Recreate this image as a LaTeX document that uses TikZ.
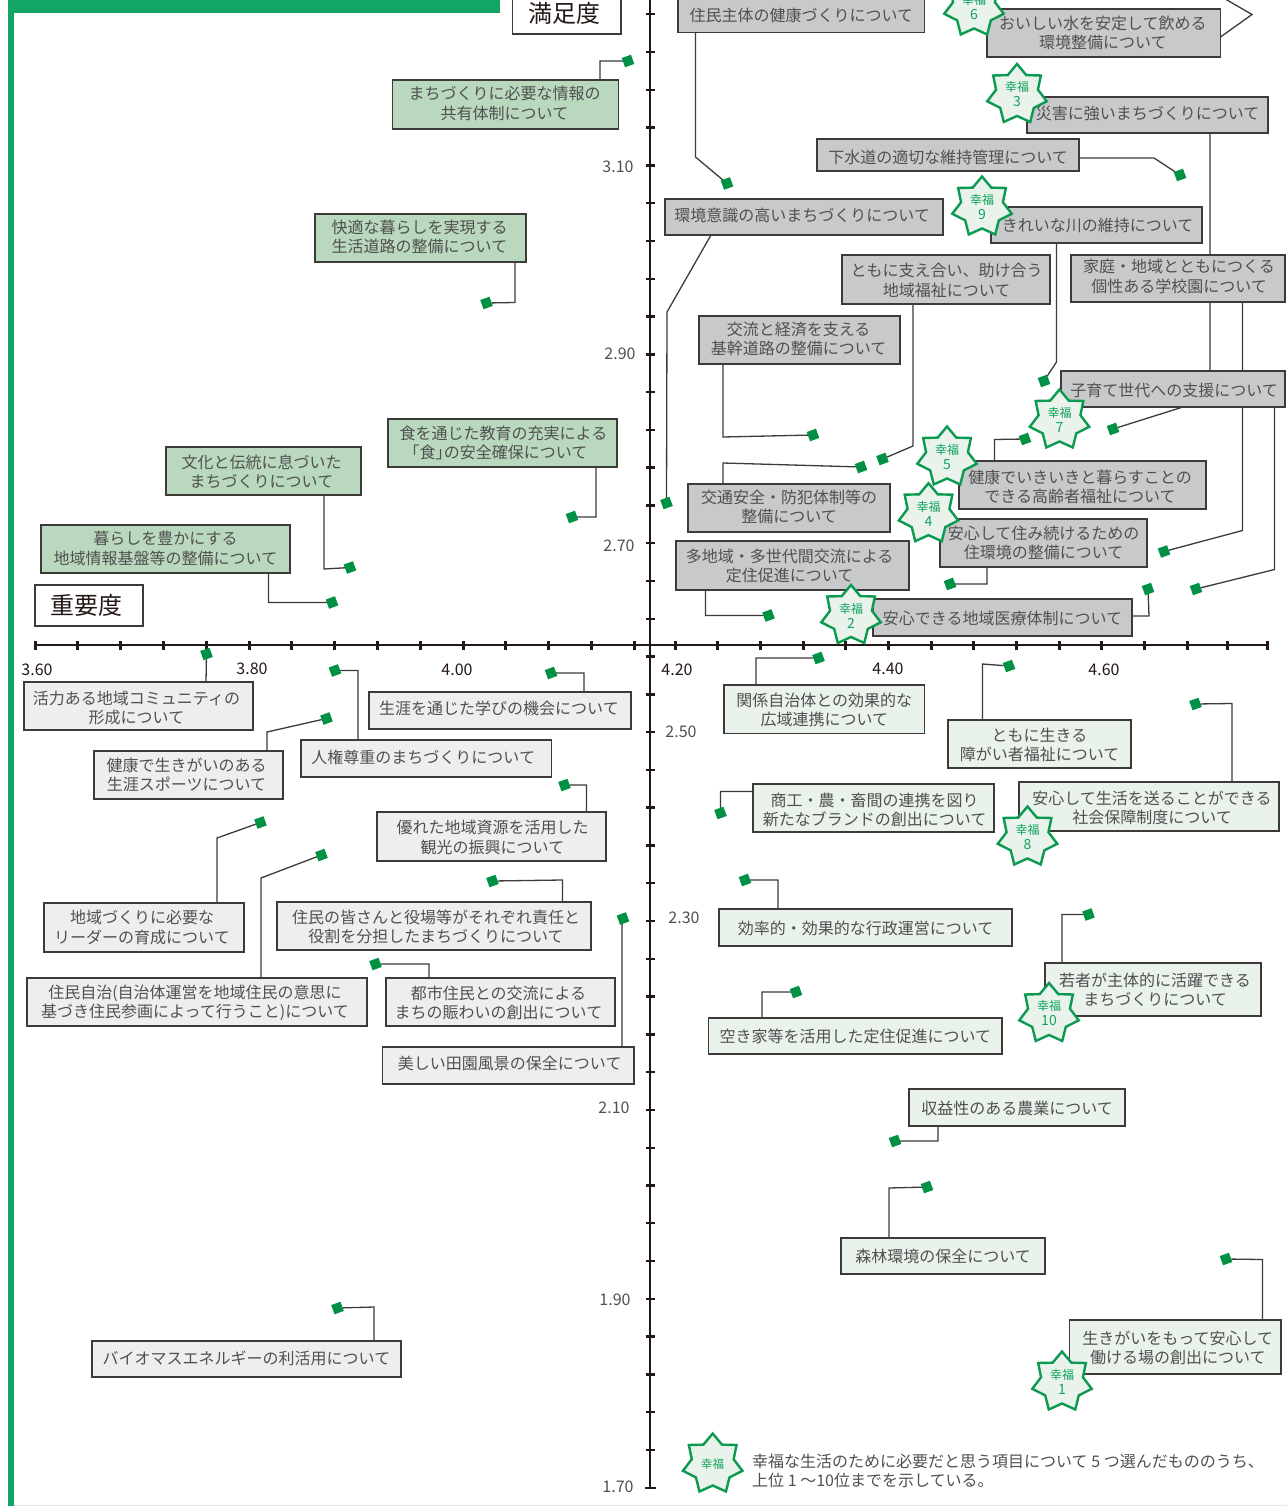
\documentclass[tikz,border=0pt]{standalone}
\usepackage{fontspec}
\setmainfont{Noto Sans CJK JP}
\usetikzlibrary{shapes.geometric}
\pgfdeclarelayer{under}
\pgfsetlayers{under,main}
\definecolor{frameg}{HTML}{13A564}
\definecolor{markg}{HTML}{009145}
\definecolor{starg}{HTML}{0B9A50}
\definecolor{startxt}{HTML}{12A35F}
\definecolor{ink}{HTML}{3E3A39}
\definecolor{txt}{HTML}{505050}
\definecolor{axisc}{HTML}{231815}
\definecolor{fdark}{HTML}{C8C9CB}
\definecolor{fmid}{HTML}{B9D8BD}
\definecolor{fgray}{HTML}{EEEEEF}
\definecolor{fpale}{HTML}{E9F2EB}
\definecolor{pale}{HTML}{E0ECE8}
% optional first argument: offset of the text from the centre of its box
\newcommand{\bx}[7][0,0]{%
  \node[#2, minimum width={(#6-#4)*1pt}, minimum height={(#7-#5)*1pt}] (#3) at ({(#4+#6)/2},{(#5+#7)/2}) {};%
  \node[boxtext] (#3t) at ([shift={(#1)}]#3.center) {\boxcontent};}
\newcommand{\tb}[8][0,0]{\def\boxcontent{#8}\bx[#1]{#2}{#3}{#4}{#5}{#6}{#7}}
\newcommand{\mk}[3]{\node[mk] (#1) at (#2,#3) {};}
\newcommand{\st}[4]{\node[hstar, font=\fontsize{12}{15}\selectfont] (#1) at (#2,#3) {幸福\\\fontsize{14}{15}\selectfont #4};}
\tikzset{
  cbox/.style={draw=ink, line width=1.3pt, inner sep=0pt, outer sep=0pt},
  boxtext/.style={inner sep=0pt, outer sep=0pt, align=center, text=txt, font=\fontsize{16}{19.2}\selectfont},
  bdark/.style={cbox, fill=fdark},
  bmid/.style={cbox, fill=fmid},
  bgray/.style={cbox, fill=fgray},
  bpale/.style={cbox, fill=fpale},
  btitle/.style={cbox, fill=white},
  titletext/.style={inner sep=0pt, text=axisc, font=\fontsize{24}{28}\selectfont},
  mk/.style={rectangle, fill=markg, inner sep=0pt, outer sep=0pt, minimum size=9.8pt, rotate=20},
  conn/.style={draw=ink, line width=1.3pt},
  hstar/.style={star, star points=7, star point ratio=1.42, draw=starg, fill=fpale, line width=2.4pt, minimum size=61pt, inner sep=0pt, outer sep=0pt, align=center, text=startxt},
  axl/.style={draw=axisc, line width=2.4pt},
  tickh/.style={draw=axisc, line width=3pt},
  tickv/.style={draw=axisc, line width=2.4pt},
  vlab/.style={inner sep=0pt, text=axisc, font=\fontsize{16}{18}\selectfont},
  ylab/.style={inner sep=0pt, text=txt, font=\fontsize{16}{18}\selectfont},
  note/.style={inner sep=0pt, text=txt, anchor=west, font=\fontsize{16}{19}\selectfont},
}
\begin{document}
\begin{tikzpicture}[x=1pt,y=-1pt]
\useasboundingbox (0,0) rectangle (1287,1506);
\begin{pgfonlayer}{under}
  \fill[white] (0,0) rectangle (1287,1506);
  \fill[frameg] (8,0) rectangle (14,1506);
  \fill[frameg] (8,0) rectangle (499.5,12.7);
  \fill[pale] (14,1504.8) rectangle (1287,1506);
  \draw[axl] (650,-2) -- (650,1488);
  \draw[axl] (34,645) -- (1268,645);
  \foreach \k in {0,...,14} {
    \draw[tickh] ({35+42.8*\k},641) -- ({35+42.8*\k},649.5);
  }
  \foreach \k in {0,...,12} {
    \draw[tickh] ({675+42.67*\k},641) -- ({675+42.67*\k},649.5);
  }
  \draw[tickh] (1227,641) -- (1227,649.5);
  \draw[tickh] (1267,641) -- (1267,649.5);
  \foreach \k in {0,...,38} {
    \draw[tickv] (645.5,{14.3+37.78*\k}) -- (654.5,{14.3+37.78*\k});
  }
  \draw[tickv] (645,1487.8) -- (656,1487.8);
\end{pgfonlayer}

% axis labels
\node[vlab] (x1) at (37,669.5) {3.60};
\node[vlab] (x2) at (252,668.5) {3.80};
\node[vlab] (x3) at (457,669.5) {4.00};
\node[vlab] (x4) at (677,669.5) {4.20};
\node[vlab] (x5) at (888,668.5) {4.40};
\node[vlab] (x6) at (1104,669.5) {4.60};
\node[ylab] (y1) at (618,166.5) {3.10};
\node[ylab] (y2) at (620,353.5) {2.90};
\node[ylab] (y3) at (619,545.5) {2.70};
\node[ylab] (y4) at (681,731.5) {2.50};
\node[ylab] (y5) at (684,917.5) {2.30};
\node[ylab] (y6) at (614,1107.5) {2.10};
\node[ylab] (y7) at (615,1299.5) {1.90};
\node[ylab] (y8) at (618,1486.5) {1.70};

% titles
\node[btitle, minimum width=108.5pt, minimum height=36pt] (tsat) at (566.75,16) {};
\node[titletext] (tsatt) at (564.5,13) {満足度};
\node[btitle, minimum width=108pt, minimum height=41pt] (timp) at (89,605.5) {};
\node[titletext] (timpt) at (86.8,605.5) {重要度};

% upper right
\tb{bdark}{a1}{678}{-1}{924.5}{32.5}{住民主体の健康づくりについて}
\tb[-1,0]{bdark}{a2}{987}{9}{1220.5}{57}{おいしい水を安定して飲める\\環境整備について}
\tb[0,-2]{bdark}{a3}{1027}{97}{1268}{133}{災害に強いまちづくりについて}
\tb[0,2]{bdark}{a4}{817}{139}{1079}{171}{下水道の適切な維持管理について}
\tb[-2,-2]{bdark}{a5}{665}{199}{943}{235}{環境意識の高いまちづくりについて}
\tb[1,0]{bdark}{a6}{991}{207}{1202}{243}{きれいな川の維持について}
\tb[0.5,1]{bdark}{a7}{842}{255}{1050}{304}{ともに支え合い、助け合う\\地域福祉について}
\tb[1,-2]{bdark}{a8}{1071}{255}{1285}{302}{家庭・地域とともにつくる\\個性ある学校園について}
\tb[-1,-1]{bdark}{a9}{699}{316}{900}{364}{交流と経済を支える\\基幹道路の整備について}
\tb[1,1]{bdark}{a10}{1061}{371}{1285}{407}{子育て世代への支援について}
\tb[-2.5,2]{bdark}{a11}{959}{461}{1206}{509}{健康でいきいきと暮らすことの\\できる高齢者福祉について}
\tb[0,-1]{bdark}{a12}{688}{484}{890}{532}{交通安全・防犯体制等の\\整備について}
\tb{bdark}{a13}{940}{519}{1147}{567}{安心して住み続けるための\\住環境の整備について}
\tb[-3,0.5]{bdark}{a14}{676}{541}{909}{590}{多地域・多世代間交流による\\定住促進について}
\tb[0,1]{bdark}{a15}{873}{599}{1132}{636}{安心できる地域医療体制について}

% upper left
\tb[-1,-1]{bmid}{b1}{392.5}{80}{618.5}{129}{まちづくりに必要な情報の\\共有体制について}
\tb[-1,-1]{bmid}{b2}{315}{214}{526}{262}{快適な暮らしを実現する\\生活道路の整備について}
\tb[1,0]{bmid}{b3}{388}{419}{617}{467}{食を通じた教育の充実による\\\kern-16pt「食」\kern-8pt の安全確保について}
\tb[-2,1]{bmid}{b4}{166}{447}{361}{495}{文化と伝統に息づいた\\まちづくりについて}
\tb[0,-0.5]{bmid}{b5}{41}{525}{290}{573}{暮らしを豊かにする\\地域情報基盤等の整備について}

% lower left
\tb[-2,2]{bgray}{c1}{24}{682}{253}{730}{活力ある地域コミュニティの\\形成について}
\tb[-1,-2]{bgray}{c2}{369}{692}{631}{729}{生涯を通じた学びの機会について}
\tb[-2,0]{bgray}{c3}{94}{751}{283}{799}{健康で生きがいのある\\生涯スポーツについて}
\tb[-3,-1]{bgray}{c4}{301}{740}{551.5}{777}{人権尊重のまちづくりについて}
\tb[1,1]{bgray}{c5}{377}{812}{606}{861}{優れた地域資源を活用した\\観光の振興について}
\tb[-2,0]{bgray}{c6}{44}{903}{244}{952}{地域づくりに必要な\\リーダーの育成について}
\tb[2,1]{bgray}{c7}{277}{902}{591}{950}{住民の皆さんと役場等がそれぞれ責任と\\役割を分担したまちづくりについて}
\tb[-2,1]{bgray}{c8}{27}{978}{367}{1026}{住民自治(自治体運営を地域住民の意思に\\基づき住民参画によって行うこと)について}
\tb[-2,1]{bgray}{c9}{386}{978}{615}{1026}{都市住民との交流による\\まちの賑わいの創出について}
\tb[1.5,-2]{bgray}{c10}{382.5}{1047}{634}{1084}{美しい田園風景の保全について}
\tb[0,-1]{bgray}{c11}{92}{1341}{401}{1377}{バイオマスエネルギーの利活用について}

% lower right
\tb[0,1]{bpale}{d1}{724}{685}{924.5}{733.5}{関係自治体との効果的な\\広域連携について}
\tb[0,1]{bpale}{d2}{948}{720}{1131}{768}{ともに生きる\\障がい者福祉について}
\tb[3,1]{bpale}{d3}{1019}{782}{1279}{831}{安心して生活を送ることができる\\社会保障制度について}
\tb[1,2]{bpale}{d4}{753}{784}{994}{832}{商工・農・畜間の連携を図り\\新たなブランドの創出について}
\tb[0,1]{bpale}{d5}{719}{909}{1012}{946}{効率的・効果的な行政運営について}
\tb[2,0]{bpale}{d6}{1045}{963}{1261}{1016}{若者が主体的に活躍できる\\まちづくりについて}
\tb{bpale}{d7}{708.5}{1018}{1002}{1054}{空き家等を活用した定住促進について}
\tb[0,1]{bpale}{d8}{909}{1089}{1125}{1126}{収益性のある農業について}
\tb{bpale}{d9}{841}{1238}{1045}{1274}{森林環境の保全について}
\tb[2.5,1]{bpale}{d10}{1069.5}{1320}{1281}{1374}{生きがいをもって安心して\\働ける場の創出について}

% markers
\mk{ma1}{727}{183.5}
\mk{ma4}{1180}{175}
\mk{ma5}{666.5}{503}
\mk{ma6}{1044}{381}
\mk{ma3}{1113}{429}
\mk{ma12}{861}{467}
\mk{ma9}{813}{435}
\mk{ma7}{882.5}{459}
\mk{ma11}{1025}{439}
\mk{ma8}{1164}{551.5}
\mk{ma13}{950}{584}
\mk{ma10}{1196}{589}
\mk{ma15}{1148}{589}
\mk{ma14}{768.5}{615.5}
\mk{mb1}{628}{61}
\mk{mb2}{486.5}{303}
\mk{mb3}{572}{517}
\mk{mb4}{350}{567.5}
\mk{mb5}{332}{602.5}
\mk{mc1}{206.5}{654}
\mk{mc2}{551}{673}
\mk{mc3}{326.5}{718.5}
\mk{mc4}{335}{670.5}
\mk{mc5}{564.5}{785}
\mk{mc6}{260.5}{822.5}
\mk{mc7}{492.5}{881}
\mk{mc8}{321.5}{855}
\mk{mc9}{375.5}{964}
\mk{mc10}{623}{918.5}
\mk{mc11}{337.5}{1308}
\mk{md1}{818.5}{658}
\mk{md2}{1009}{666}
\mk{md3}{1195.5}{704}
\mk{md4}{720.5}{813}
\mk{md5}{745}{880}
\mk{md6}{1088.5}{914.5}
\mk{md7}{796}{992}
\mk{md8}{895}{1141}
\mk{md9}{927}{1187}
\mk{md10}{1226}{1259}

% connectors
\coordinate (topend) at (1220,-4);
\begin{pgfonlayer}{under}
  \draw[conn] (695.5,0 |- a1.south) -- (695.5,157) -- (ma1);
  \draw[conn] (a2.east |- 0,37) -- (1252,14.5) -- (topend);
  \draw[conn] (1210,0 |- a3.south) -- (1210,398.5) -- (ma3);
  \draw[conn] (a4.east |- 0,158) -- (1154,158) -- (ma4);
  \draw[conn] (711,0 |- a5.south) -- (667,312) -- (ma5);
  \draw[conn] (1056.5,0 |- a6.south) -- (1056.5,362) -- (ma6);
  \draw[conn] (913,0 |- a7.south) -- (913,446) -- (ma7);
  \draw[conn] (1242.5,0 |- a8.south) -- (1242.5,530.5) -- (ma8);
  \draw[conn] (723,0 |- a9.south) -- (723,437) -- (ma9);
  \draw[conn] (1274.5,0 |- a10.south) -- (1274.5,569.5) -- (ma10);
  \draw[conn] (994.5,0 |- a11.north) -- (994.5,439.5) -- (ma11);
  \draw[conn] (723,0 |- a12.north) -- (723,463) -- (ma12);
  \draw[conn] (987,0 |- a13.south) -- (987,584) -- (ma13);
  \draw[conn] (705.5,0 |- a14.south) -- (705.5,615.5) -- (ma14);
  \draw[conn] (a15.east |- 0,616) -- (1149,616) -- (ma15);
  \draw[conn] (600,0 |- b1.north) -- (600,61) -- (mb1);
  \draw[conn] (515,0 |- b2.south) -- (515,302.5) -- (mb2);
  \draw[conn] (596,0 |- b3.south) -- (596,517) -- (mb3);
  \draw[conn] (324,0 |- b4.south) -- (324,569) -- (mb4);
  \draw[conn] (268.5,0 |- b5.south) -- (268.5,602.5) -- (mb5);
  \draw[conn] (206,0 |- c1.north) -- (mc1);
  \draw[conn] (584,0 |- c2.north) -- (584,673) -- (mc2);
  \draw[conn] (267,0 |- c3.north) -- (267,732) -- (mc3);
  \draw[conn] (358,0 |- c4.north) -- (358,670.5) -- (mc4);
  \draw[conn] (586.5,0 |- c5.north) -- (586.5,785) -- (mc5);
  \draw[conn] (217,0 |- c6.north) -- (217,838) -- (mc6);
  \draw[conn] (562.5,0 |- c7.north) -- (562.5,880) -- (mc7);
  \draw[conn] (261,0 |- c8.north) -- (261,878) -- (mc8);
  \draw[conn] (429,0 |- c9.north) -- (429,964) -- (mc9);
  \draw[conn] (622,0 |- c10.north) -- (622,925) -- (mc10);
  \draw[conn] (374,0 |- c11.north) -- (374,1307) -- (mc11);
  \draw[conn] (756,0 |- d1.north) -- (756,658) -- (md1);
  \draw[conn] (982.5,0 |- d2.north) -- (982.5,664) -- (md2);
  \draw[conn] (1232,0 |- d3.north) -- (1232,703.5) -- (md3);
  \draw[conn] (d4.west |- 0,791.5) -- (720.5,791.5) -- (md4);
  \draw[conn] (778,0 |- d5.north) -- (778,880) -- (md5);
  \draw[conn] (1062,0 |- d6.north) -- (1062,914.5) -- (md6);
  \draw[conn] (762,0 |- d7.north) -- (762,992) -- (md7);
  \draw[conn] (938,0 |- d8.south) -- (938,1141) -- (md8);
  \draw[conn] (889,0 |- d9.north) -- (889,1188) -- (md9);
  \draw[conn] (1262.5,0 |- d10.north) -- (1262.5,1259.5) -- (md10);
\end{pgfonlayer}

% stars
\st{s1}{1062}{1382}{1}
\st{s2}{851}{615.5}{2}
\st{s3}{1017}{94.5}{3}
\st{s4}{928.5}{513.7}{4}
\st{s5}{947}{457}{5}
\st{s6}{974}{7}{6}
\st{s7}{1059.5}{420}{7}
\st{s8}{1027.5}{837}{8}
\st{s9}{982}{207}{9}
\st{s10}{1049}{1013.5}{10}
\node[hstar, font=\fontsize{11.5}{14}\selectfont] (s0) at (712.7,1464) {幸福};
\node[note] (n1) at (752,1461.5) {幸福な生活のために必要だと思う項目について 5 つ選んだもののうち、};
\node[note] (n2) at (752,1480.5) {上位 1 ～10位までを示している。};
\end{tikzpicture}
\end{document}
